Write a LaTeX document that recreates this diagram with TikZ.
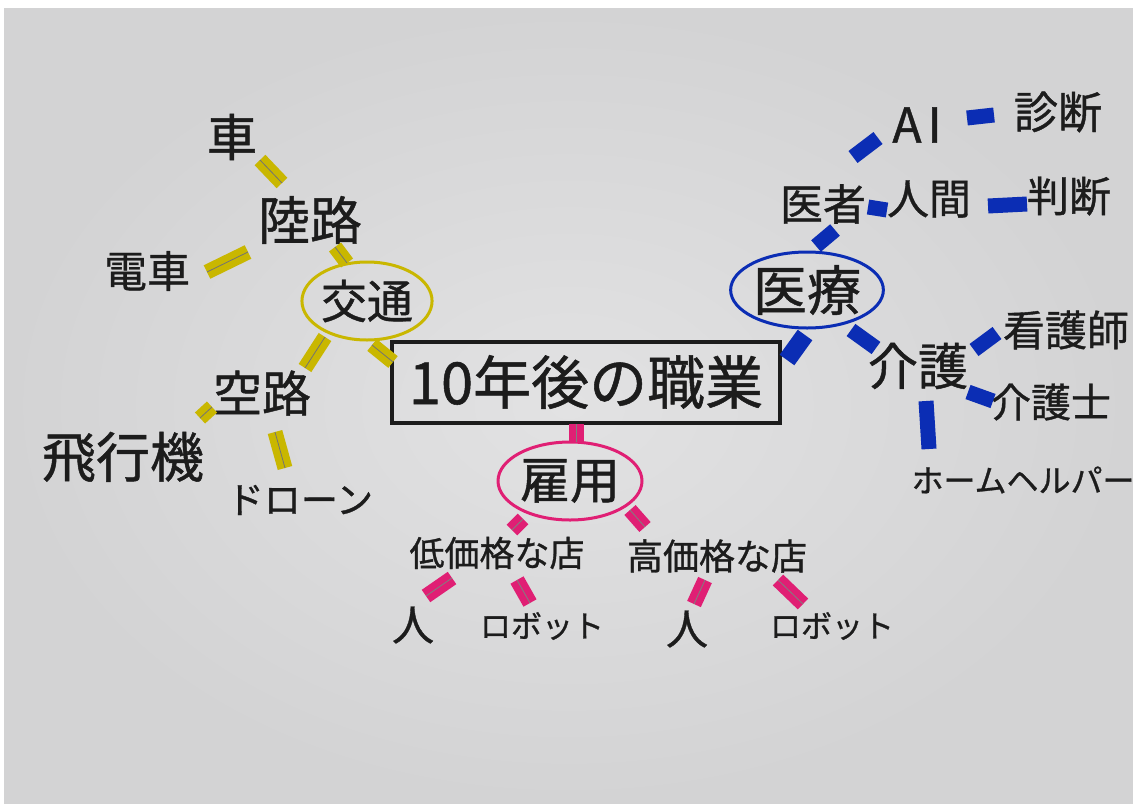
\documentclass[tikz,border=0pt]{standalone}
\usepackage{fontspec}
\setmainfont{Noto Sans CJK JP}[FakeBold=0.9]
\usetikzlibrary{shapes.geometric}
\definecolor{ylw}{HTML}{C9B700}
\definecolor{blu}{HTML}{0B2DB4}
\definecolor{pnk}{HTML}{E01F74}
\definecolor{ink}{HTML}{1C1C1C}
\definecolor{paperin}{HTML}{E2E2E3}
\definecolor{paperout}{HTML}{D3D3D4}
\tikzset{
  lbl/.style={inner sep=0pt, text=ink, font=\fontsize{#1}{#1}\selectfont},
  ymark/.style={draw=ylw, line width=7.5pt, postaction={draw=black!55, line width=0.4pt}},
  pmark/.style={draw=pnk, line width=7.5pt, postaction={draw=black!50, line width=0.4pt}},
  bmark/.style={draw=blu, line width=7.5pt},
  topic/.style={ellipse, line width=1.5pt, inner sep=0pt, text=ink},
}
\begin{document}
\begin{tikzpicture}[x=0.5pt,y=-0.5pt]
\useasboundingbox (0,0) rectangle (1133,803);
\fill[white] (0,0) rectangle (1133,803);
\shade[inner color=paperin, outer color=paperout] (4,8) rectangle (1133,803);

% centre
\node[draw=ink, line width=2pt, minimum width=194pt, minimum height=40.5pt, inner sep=0pt, text=ink,
      font=\fontsize{29}{29}\selectfont] (main) at (586,382) {10年後の職業};

% traffic (yellow)
\node[topic, draw=ylw, minimum width=61pt, minimum height=39pt, font=\fontsize{23}{23}\selectfont] (kotsu) at (367,301) {交通};
\node[lbl=25] (kuruma) at (232,137) {車};
\node[lbl=26] (rikuro) at (310,220) {陸路};
\node[lbl=21.5] (densha) at (147,271) {電車};
\node[lbl=24.5] (kuro) at (262,393) {空路};
\node[lbl=27] (hikoki) at (123,457) {飛行機};
\node[lbl=18.5] (drone) at (300,500) {ドローン};

% employment (pink)
\node[topic, draw=pnk, minimum width=72pt, minimum height=39pt, font=\fontsize{25}{25}\selectfont] (koyo) at (570,481) {雇用};
\node[lbl=17.5] (tei) at (497,553) {低価格な店};
\node[lbl=18] (ko) at (717,556) {高価格な店};
\node[lbl=21] (hito1) at (413,625) {人};
\node[lbl=15.5] (robo1) at (542,626) {ロボット};
\node[lbl=21] (hito2) at (687,629) {人};
\node[lbl=15.5] (robo2) at (832,626) {ロボット};

% medical (blue)
\node[topic, draw=blu, minimum width=75pt, minimum height=38pt, font=\fontsize{27}{27}\selectfont] (iryo) at (807,290) {医療};
\node[lbl=21.5] (isha) at (823,204) {医者};
\node[lbl=24] (ai) at (917,125) {A\kern3pt I};
\node[lbl=22] (shindan) at (1058,112) {診断};
\node[lbl=21] (ningen) at (929,199) {人間};
\node[lbl=21] (handan) at (1069,196) {判断};
\node[lbl=25] (kaigo) at (918,366) {介護};
\node[lbl=21] (kangoshi) at (1066,330) {看護師};
\node[lbl=20] (kaigoshi) at (1051,402) {介護士};
\node[lbl=16] (helper) at (1023,480) {ホームヘルパー};

% yellow connectors
\draw[ymark] ([shift={(28,23)}]kuruma.center) -- ([shift={(-28,-37)}]rikuro.center);
\draw[ymark] ([shift={(60,1)}]densha.center) -- ([shift={(-62,32)}]rikuro.center);
\draw[ymark] ([shift={(25,27)}]rikuro.center) -- ([shift={(-20,-38)}]kotsu.center);
\draw[ymark] ([shift={(-42,36)}]kotsu.center) -- ([shift={(43,-25)}]kuro.center);
\draw[ymark] ([shift={(5,44)}]kotsu.center) -- ([shift={(-193,-20)}]main.center);
\draw[ymark] ([shift={(-50,14)}]kuro.center) -- ([shift={(77,-39)}]hikoki.center);
\draw[ymark] ([shift={(13,39)}]kuro.center) -- ([shift={(-15,-32)}]drone.center);

% pink connectors
\draw[pmark] ([shift={(-10,42)}]main.center) -- ([shift={(6,-39)}]koyo.center);
\draw[pmark] ([shift={(-47,38)}]koyo.center) -- ([shift={(15,-23)}]tei.center);
\draw[pmark] ([shift={(60,29)}]koyo.center) -- ([shift={(-72,-29)}]ko.center);
\draw[pmark] ([shift={(-45,25)}]tei.center) -- ([shift={(13,-29)}]hito1.center);
\draw[pmark] ([shift={(20,27)}]tei.center) -- ([shift={(-12,-23)}]robo1.center);
\draw[pmark] ([shift={(-12,24)}]ko.center) -- ([shift={(7,-25)}]hito2.center);
\draw[pmark] ([shift={(61,24)}]ko.center) -- ([shift={(-29,-22)}]robo2.center);

% blue connectors
\draw[bmark, line width=9pt] ([shift={(-2,45)}]iryo.center) -- ([shift={(201,-22)}]main.center);
\draw[bmark] ([shift={(9,-44)}]iryo.center) -- ([shift={(12,26)}]isha.center);
\draw[bmark] ([shift={(30,-47)}]isha.center) -- ([shift={(-39,13)}]ai.center);
\draw[bmark] ([shift={(45,3)}]isha.center) -- ([shift={(-42,11)}]ningen.center);
\draw[bmark] ([shift={(50,-7)}]ai.center) -- ([shift={(-64,3)}]shindan.center);
\draw[bmark] ([shift={(59,7)}]ningen.center) -- ([shift={(-42,8)}]handan.center);
\draw[bmark] ([shift={(44,40)}]iryo.center) -- ([shift={(-42,-18)}]kaigo.center);
\draw[bmark] ([shift={(56,-16)}]kaigo.center) -- ([shift={(-69,3)}]kangoshi.center);
\draw[bmark] ([shift={(50,26)}]kaigo.center) -- ([shift={(-58,-1)}]kaigoshi.center);
\draw[bmark] ([shift={(8,35)}]kaigo.center) -- ([shift={(-94,-31)}]helper.center);
\end{tikzpicture}
\end{document}
